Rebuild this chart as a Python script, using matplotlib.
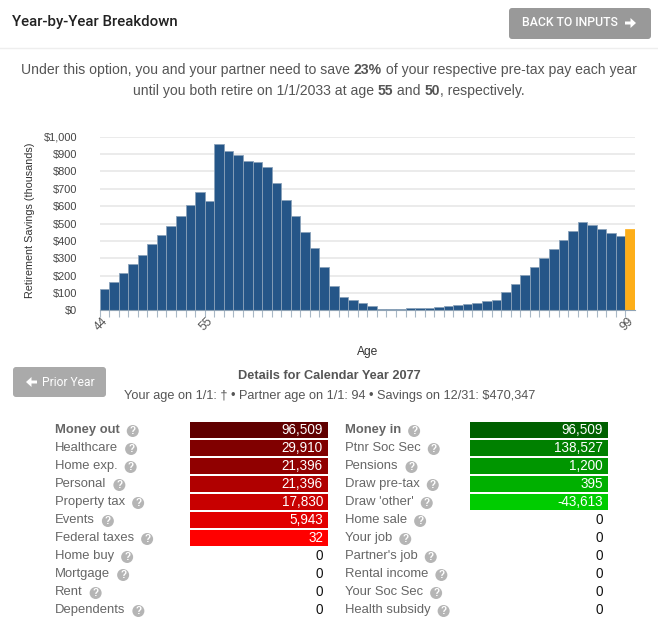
import matplotlib
matplotlib.use("Agg")
import matplotlib.pyplot as plt
from matplotlib.patches import FancyBboxPatch, Circle

ages = list(range(44, 100))
savings = [122, 165, 213, 266, 322, 383, 433, 487, 544, 609, 680, 628, 960, 918, 895, 860, 855, 824, 734, 634,
           542, 454, 358, 251, 140, 77, 59, 44, 25, 8, 8, 10, 12, 13, 17, 21, 27, 33, 38, 46, 54, 63, 109,
           155, 203, 253, 303, 352, 404, 456, 510, 490, 469, 448, 427]
savings_final = 470
y_ticks = [0, 100, 200, 300, 400, 500, 600, 700, 800, 900, 1000]
age_labels = {44: "44", 55: "55", 99: "99"}

out_labels = ["Money out", "Healthcare", "Home exp.", "Personal", "Property tax", "Events", "Federal taxes",
              "Home buy", "Mortgage", "Rent", "Dependents"]
out_values = ["96,509", "29,910", "21,396", "21,396", "17,830", "5,943", "32", "0", "0", "0", "0"]
out_colors = ["#600000", "#800000", "#900000", "#b00000", "#c80000", "#e20000", "#ff0000"]

in_labels = ["Money in", "Ptnr Soc Sec", "Pensions", "Draw pre-tax", "Draw 'other'", "Home sale", "Your job",
             "Partner's job", "Rental income", "Your Soc Sec", "Health subsidy"]
in_values = ["96,509", "138,527", "1,200", "395", "-43,613", "0", "0", "0", "0", "0", "0"]
in_colors = ["#006000", "#008000", "#009600", "#00b000", "#00cc00"]

BODY = ["Liberation Sans", "DejaVu Sans"]
GREY = "#555555"


def px(n):
    return n * 0.72


fig = plt.figure(figsize=(6.58, 6.19), dpi=100)
page = fig.add_axes([0, 0, 1, 1])
page.set_xlim(0, 658)
page.set_ylim(619, 0)
page.axis("off")
renderer = fig.canvas.get_renderer()

# HEADER
page.text(12, 22, "Year-by-Year Breakdown", fontsize=px(15), family="Roboto", weight="medium",
          color="#222222", va="center")
page.plot([0, 658], [48, 48], color="#eeeeee", lw=1)


def button(x0, y0, x1, y1, color):
    page.add_patch(FancyBboxPatch((x0 + 3, y0 + 3), x1 - x0 - 6, y1 - y0 - 6, boxstyle="round,pad=3,rounding_size=3",
                                  fc=color, ec="none"))


def arrow(x, y, dx):
    page.arrow(x, y, dx, 0, width=3, head_width=10, head_length=5.5, length_includes_head=True, fc="white", ec="none")


button(509, 8, 651, 39, "#999999")
page.text(522, 23, "BACK TO INPUTS", fontsize=px(12.2), family="Roboto", weight="medium", color="white", va="center")
arrow(625, 23, 11)
button(13, 367, 106, 397, "#aaaaaa")
arrow(37, 382, -11)
page.text(42, 382, "Prior Year", fontsize=px(12), family="Roboto", color="white", va="center")


def centered(parts, y, cx=329, size=14):
    # mixed bold / regular runs on one centred line
    items = [page.text(0, y, s, fontsize=px(size), family=BODY, weight=w, color=GREY, va="center")
             for s, w in parts]
    inv = page.transData.inverted()
    widths = []
    for t in items:
        box = t.get_window_extent(renderer)
        widths.append(inv.transform((box.x1, 0))[0] - inv.transform((box.x0, 0))[0])
    x = cx - sum(widths) / 2
    for t, w in zip(items, widths):
        t.set_x(x)
        x += w


centered([("Under this option, you and your partner need to save\u00a0", "normal"), ("23%", "bold"),
          ("\u00a0of your respective pre-tax pay each year", "normal")], 70)
centered([("until you both retire on 1/1/2033 at age\u00a0", "normal"), ("55", "bold"), ("\u00a0and\u00a0", "normal"),
          ("50", "bold"), (", respectively.", "normal")], 91)
page.text(329.5, 376, "Details for Calendar Year 2077", fontsize=px(12.7), family=BODY, weight="bold",
          color=GREY, ha="center", va="center")
page.text(329.5, 396, "Your age on 1/1: \u2020 \u2022 Partner age on 1/1: 94 \u2022 Savings on 12/31: $470,347",
          fontsize=px(12.7), family=BODY, color=GREY, ha="center", va="center")


# BREAKDOWN TABLES
def table(labels, values, colors, x_label, x0, x1):
    inv = page.transData.inverted()
    for i, (name, val) in enumerate(zip(labels, values)):
        y = 430 + 18 * i
        t = page.text(x_label, y, name, fontsize=px(13), family=BODY, color="#666666",
                      weight="bold" if i == 0 else "normal", va="center")
        right = inv.transform((t.get_window_extent(renderer).x1, 0))[0]
        page.add_patch(Circle((right + 13, y + 1), 6, fc="#b5b5b5", ec="none"))
        page.text(right + 13, y + 1, "?", fontsize=px(10), family=BODY, weight="bold", color="white",
                  ha="center", va="center")
        if i < len(colors):
            page.barh(y, x1 - x0, height=16, left=x0, color=colors[i])
        page.text(x1 - 5, y, val, fontsize=px(13.5), family=BODY, ha="right", va="center",
                  color="white" if i < len(colors) else "#111111")


table(out_labels, out_values, out_colors, 55, 190, 328)
table(in_labels, in_values, in_colors, 345, 470, 608)
page.set_xlim(0, 658)
page.set_ylim(619, 0)

# SAVINGS CHART
ax = fig.add_axes([99.5 / 658, 1 - 310.5 / 619, (635 - 99.5) / 658, 173.8 / 619])
ax.patch.set_alpha(0)
ax.bar(ages[:-1], savings, width=1, align="edge", color="#255688", edgecolor="#8aa2ba", linewidth=0.6, zorder=3)
ax.bar(ages[-1], savings_final, width=1, align="edge", color="#fdae19", edgecolor="#fdae19", linewidth=0.5, zorder=3)
ax.set_xlim(44, 100)
ax.set_ylim(0, 1000)
ax.set_yticks(y_ticks)
ax.set_yticklabels(["$0"] + ["$%d" % v for v in y_ticks[1:-1]] + ["$1,000"], fontsize=px(11), family=BODY,
                   color="#444444")
ax.set_xticks(ages)
ax.set_xticklabels([])
for a, s in age_labels.items():
    ax.annotate(s, xy=(a, 0), xycoords=("data", "axes fraction"), xytext=(px(1.5), px(-13.5)),
                textcoords="offset points", fontsize=px(12), family=BODY, color="#555555", rotation=45,
                ha="center", va="center")
ax.tick_params(axis="y", length=0, pad=16)
ax.tick_params(axis="x", length=4.7, width=0.8, color="#a9b8c6", pad=1)
ax.grid(axis="y", color="#e6e6e6", lw=1.1, zorder=0)
for side in ["top", "right", "left"]:
    ax.spines[side].set_visible(False)
ax.spines["bottom"].set_color("#8fa3b5")
ax.spines["bottom"].set_zorder(5)
page.text(30.5, 220, "Retirement Savings (thousands)", fontsize=px(10.8), family=BODY, color="#333333", rotation=90,
          ha="center", va="center")
page.text(367.5, 352.5, "Age", fontsize=px(12), family=BODY, color="#333333", ha="center", va="center")

fig.savefig("out.png", dpi=100)
